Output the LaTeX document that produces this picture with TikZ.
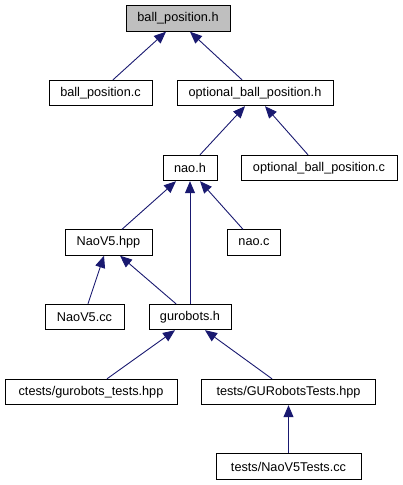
\documentclass[tikz,border=0pt]{standalone}
\usepackage{fontspec}
\setmainfont{Liberation Sans}
\usetikzlibrary{arrows.meta, positioning}

\begin{document}
\begin{tikzpicture}[x=1pt, y=-1pt,
  file/.style={draw=black, line width=0.9pt, minimum height=25.5pt, inner sep=0pt,
    font=\fontsize{12.7}{15}\selectfont},
  dep/.style={draw={rgb,255:red,25;green,25;blue,112}, line width=0.9pt,
    {Triangle[length=12pt,width=10pt]}-}]
  % 边界
  \useasboundingbox (0,0) rectangle (403,485);

  % 绘制文件节点
  \node[file, fill={rgb,255:red,191;green,191;blue,191}, minimum width=104pt] (bph) at (178,18.5) {ball\_position.h};
  \node[file, minimum width=103pt] (bpc) at (100.5,93) {ball\_position.c};
  \node[file, minimum width=156pt] (obph) at (255,93) {optional\_ball\_position.h};
  \node[file, minimum width=54pt] (naoh) at (190,168) {nao.h};
  \node[file, minimum width=156pt] (obpc) at (319,168) {optional\_ball\_position.c};
  \node[file, minimum width=87pt] (v5hpp) at (108.5,242.5) {NaoV5.hpp};
  \node[file, minimum width=53pt] (naoc) at (254,242.5) {nao.c};
  \node[file, minimum width=79pt] (v5cc) at (84.5,317) {NaoV5.cc};
  \node[file, minimum width=82pt] (guro) at (190,317) {gurobots.h};
  \node[file, minimum width=172pt] (ctests) at (91,392) {ctests/gurobots\_tests.hpp};
  \node[file, minimum width=174pt] (gurt) at (288.5,392) {tests/GURobotsTests.hpp};
  \node[file, minimum width=145pt] (v5t) at (288.5,466.5) {tests/NaoV5Tests.cc};

  % 绘制依赖关系（箭头指向被包含的文件）
  \foreach \parent/\px/\child/\cx in {bph/-12/bpc/12.5, bph/12/obph/-13,
      obph/-10/naoh/10, obph/10/obpc/-11,
      naoh/-14/v5hpp/13.5, naoh/0/guro/0, naoh/10/naoc/-11,
      v5hpp/-4.5/v5cc/3.5, v5hpp/11.5/guro/-14,
      guro/-15/ctests/16, guro/15/gurt/-16.5, gurt/0/v5t/0} {
    \draw[dep] ([xshift=\px pt]\parent.south) -- ([xshift=\cx pt]\child.north);
  }
\end{tikzpicture}
\end{document}
